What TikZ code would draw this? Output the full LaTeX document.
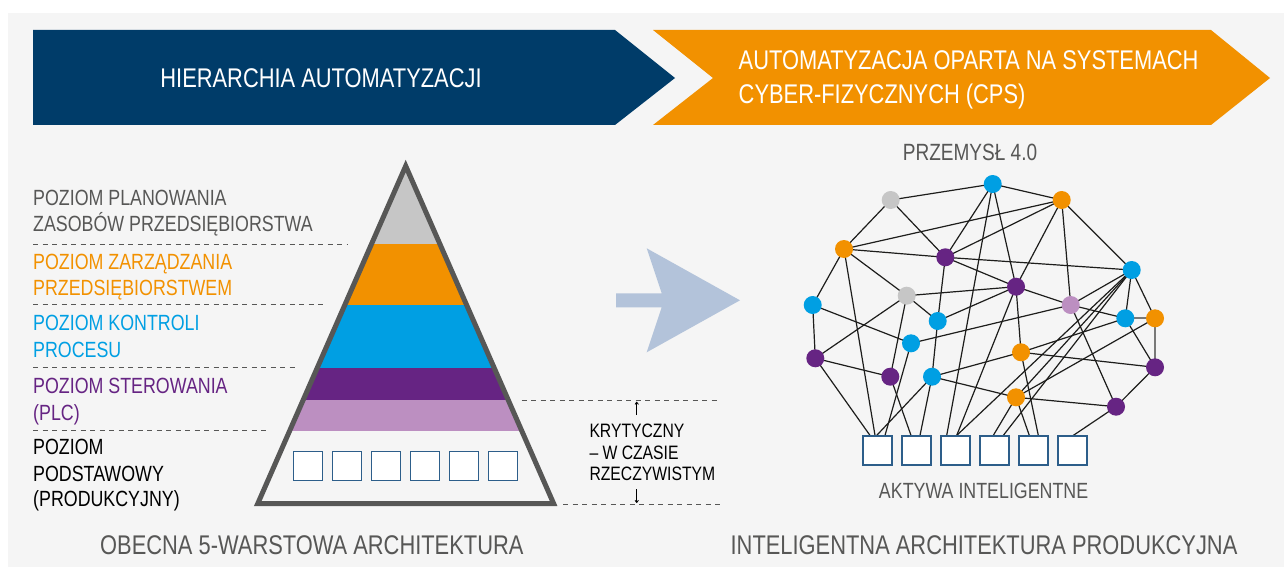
\documentclass[tikz,border=0pt]{standalone}
\usepackage{fontspec}
\setmainfont{Liberation Sans}[FakeStretch=0.81]
\usetikzlibrary{calc,arrows.meta}
\definecolor{panel}{HTML}{F5F5F5}
\definecolor{navy}{HTML}{003C69}
\definecolor{orng}{HTML}{F29100}
\definecolor{cyn}{HTML}{009FE3}
\definecolor{purp}{HTML}{662483}
\definecolor{lilac}{HTML}{BC8FC1}
\definecolor{lgray}{HTML}{C6C6C6}
\definecolor{dgray}{HTML}{575756}
\definecolor{boxblue}{HTML}{2D5E8A}
\definecolor{arrowblue}{HTML}{B3C3DA}
\definecolor{edgeblack}{HTML}{1D1D1B}
\pgfdeclarelayer{back}
\pgfdeclarelayer{edges}
\pgfsetlayers{back,edges,main}
\tikzset{
  lbl/.style={anchor=base west, inner sep=0pt, font=\fontsize{22}{26}\selectfont},
  ttl/.style={inner sep=0pt, font=\fontsize{27}{32}\selectfont},
  sub/.style={inner sep=0pt, font=\fontsize{22}{26}\selectfont, text=dgray},
  crit/.style={anchor=base west, inner sep=0pt, font=\fontsize{19.4}{23}\selectfont},
  sep/.style={draw=dgray, line width=0.9pt, dash pattern=on 5pt off 4.5pt},
  nn/.style={circle, minimum size=18pt, inner sep=0pt, draw=none},
  asset/.style={draw=boxblue, fill=white, line width=1.6pt, minimum size=29pt, inner sep=0pt},
  netedge/.style={draw=edgeblack, line width=1.2pt},
  grayedge/.style={draw=dgray!80, line width=2pt},
  smallarrow/.style={draw=black, line width=0.8pt, -{To[length=3pt,width=4pt]}},
}
\begin{document}
\begin{tikzpicture}[x=1pt,y=-1pt]
\useasboundingbox (0,0) rectangle (1284,567);
\begin{pgfonlayer}{back}
\fill[white] (0,0) rectangle (1284,567);
\fill[panel] (8,13) rectangle (1284,567);
\end{pgfonlayer}

% banners
\fill[navy] (33,30) -- (615,30) -- (675,78) -- (615,125) -- (33,125) -- cycle;
\fill[orng] (653,30) -- (1211,30) -- (1270,78) -- (1211,125) -- (653,125) -- (713,78) -- cycle;
\node[ttl, text=white, anchor=base] (t1) at (321,87.5) {HIERARCHIA AUTOMATYZACJI};
\node[ttl, text=white, anchor=base west] (t2a) at (738.5,70) {AUTOMATYZACJA OPARTA NA SYSTEMACH};
\node[ttl, text=white, anchor=base west] (t2b) at (738.5,104) {CYBER-FIZYCZNYCH (CPS)};

% left labels
\node[lbl, text=dgray] (l1a) at (33,205) {POZIOM PLANOWANIA};
\node[lbl, text=dgray] (l1b) at (33,231.7) {ZASOBÓW PRZEDSIĘBIORSTWA};
\node[lbl, text=orng] (l2a) at (33,269.3) {POZIOM ZARZĄDZANIA};
\node[lbl, text=orng] (l2b) at (33,295) {PRZEDSIĘBIORSTWEM};
\node[lbl, text=cyn] (l3a) at (33,330.7) {POZIOM KONTROLI};
\node[lbl, text=cyn] (l3b) at (33,357.3) {PROCESU};
\node[lbl, text=purp] (l4a) at (33,393.3) {POZIOM STEROWANIA};
\node[lbl, text=purp] (l4b) at (33,420) {(PLC)};
\node[lbl, text=black] (l5a) at (33,454) {POZIOM};
\node[lbl, text=black] (l5b) at (33,481.7) {PODSTAWOWY};
\node[lbl, text=black] (l5c) at (33,506.7) {(PRODUKCYJNY)};
\coordinate (s1a) at (33,244);   \coordinate (s1b) at (348,244);
\coordinate (s2a) at (33,304.7); \coordinate (s2b) at (323,304.7);
\coordinate (s3a) at (33,367.7); \coordinate (s3b) at (298,367.7);
\coordinate (s4a) at (33,430);   \coordinate (s4b) at (268,430);
\draw[sep] (s1a) -- (s1b);
\draw[sep] (s2a) -- (s2b);
\draw[sep] (s3a) -- (s3b);
\draw[sep] (s4a) -- (s4b);

% pyramid
\coordinate (apex) at (405.7,166);
\coordinate (bl) at (257.8,503.5);
\coordinate (br) at (553.6,503.5);
\begin{scope}
\clip (apex) -- (bl) -- (br) -- cycle;
\fill[lgray] (240,150) rectangle (570,244);
\fill[orng] (240,244) rectangle (570,305);
\fill[cyn] (240,305) rectangle (570,367.7);
\fill[purp] (240,367.7) rectangle (570,400);
\fill[lilac] (240,400) rectangle (570,430.7);
\end{scope}
\draw[dgray, line width=5pt, line join=miter] (apex) -- (bl) -- (br) -- cycle;
\foreach \i/\x in {1/308,2/347,3/386,4/425,5/464,6/503}
  \node[asset] (p\i) at (\x,466) {};

% critical annotation
\coordinate (c1a) at (521.7,400.7); \coordinate (c1b) at (720,400.7);
\coordinate (c2a) at (563,504);     \coordinate (c2b) at (720,504);
\draw[sep] (c1a) -- (c1b);
\draw[sep] (c2a) -- (c2b);
\coordinate (ua) at (636.7,415); \coordinate (ub) at (636.7,401.7);
\coordinate (da) at (636.7,489); \coordinate (db) at (636.7,503);
\draw[smallarrow] (ua) -- (ub);
\draw[smallarrow] (da) -- (db);
\node[crit] (k1) at (589.3,437.3) {KRYTYCZNY};
\node[crit] (k2) at (589.3,459.5) {– W CZASIE};
\node[crit] (k3) at (589.3,480.7) {RZECZYWISTYM};

% big arrow
\fill[arrowblue] (616,293.3) -- (661.7,293.3) -- (646.7,248.3) -- (740,300.3) -- (646.7,352.3) -- (661.7,307.3) -- (616,307.3) -- cycle;

% titles
\node[ttl, text=dgray, anchor=base west] (bt1) at (100,554) {OBECNA 5-WARSTOWA ARCHITEKTURA};
\node[ttl, text=dgray, anchor=base] (bt2) at (984,554) {INTELIGENTNA ARCHITEKTURA PRODUKCYJNA};
\node[sub, anchor=base, font=\fontsize{23.5}{27}\selectfont] (pz) at (970,160.5) {PRZEMYSŁ 4.0};
\node[sub, anchor=base] (ak) at (983.6,498.5) {AKTYWA INTELIGENTNE};

% network nodes
\node[nn, fill=lgray] (A) at (890.7,200) {};
\node[nn, fill=cyn]   (B) at (992.7,184) {};
\node[nn, fill=orng]  (C) at (1061.7,200) {};
\node[nn, fill=orng]  (D) at (844,249) {};
\node[nn, fill=purp]  (E) at (945.3,257.3) {};
\node[nn, fill=cyn]   (F) at (1131.7,270) {};
\node[nn, fill=purp]  (G) at (1016,286.7) {};
\node[nn, fill=lgray] (H) at (906.7,295.7) {};
\node[nn, fill=cyn]   (I) at (812.7,305) {};
\node[nn, fill=lilac] (J) at (1070.7,305) {};
\node[nn, fill=cyn]   (K) at (937.7,321) {};
\node[nn, fill=cyn]   (L) at (1125.3,318.3) {};
\node[nn, fill=orng]  (M) at (1155,318.3) {};
\node[nn, fill=cyn]   (N) at (911,343.3) {};
\node[nn, fill=orng]  (O) at (1021,352.3) {};
\node[nn, fill=purp]  (P) at (815.3,358.3) {};
\node[nn, fill=purp]  (Q) at (890.3,376.7) {};
\node[nn, fill=cyn]   (R) at (932,376.7) {};
\node[nn, fill=purp]  (S) at (1155,367.3) {};
\node[nn, fill=orng]  (T) at (1016,397.3) {};
\node[nn, fill=purp]  (U) at (1116,406.7) {};
\foreach \i/\x in {1/877.7,2/916.7,3/955.7,4/994.7,5/1033.7,6/1072.7}
  \node[asset] (b\i) at (\x,450.7) {};

\begin{pgfonlayer}{edges}
\foreach \a/\b in {A/B,A/D,A/E,B/C,B/E,B/G,C/D,C/E,C/G,C/J,C/F,D/E,D/H,D/I,
  E/F,E/G,E/K,G/H,G/K,G/J,G/O,F/J,F/L,F/M,F/T,H/K,H/P,H/Q,I/P,I/N,P/Q,N/J,
  K/R,R/O,R/T,O/L,O/S,T/U,T/M,J/L,J/U,L/S,S/U}
  \draw[netedge] (\a.center) -- (\b.center);
\draw[grayedge] (L.center) -- (M.center);
\draw[grayedge] (M.center) -- (S.center);
\foreach \a/\b/\s in {B/b3/-9,G/b3/1,F/b3/1,F/b4/8.6,D/b1/-2.7,P/b1/-7.7,
  R/b1/-1,N/b1/7.3,R/b2/3.3,Q/b2/-5.7,O/b5/4.6,T/b4/-1.4,T/b5/-4.4,U/b6/0.6}
  \draw[netedge] (\a.center) -- ([xshift=\s pt]\b.north);
\end{pgfonlayer}
\end{tikzpicture}
\end{document}
